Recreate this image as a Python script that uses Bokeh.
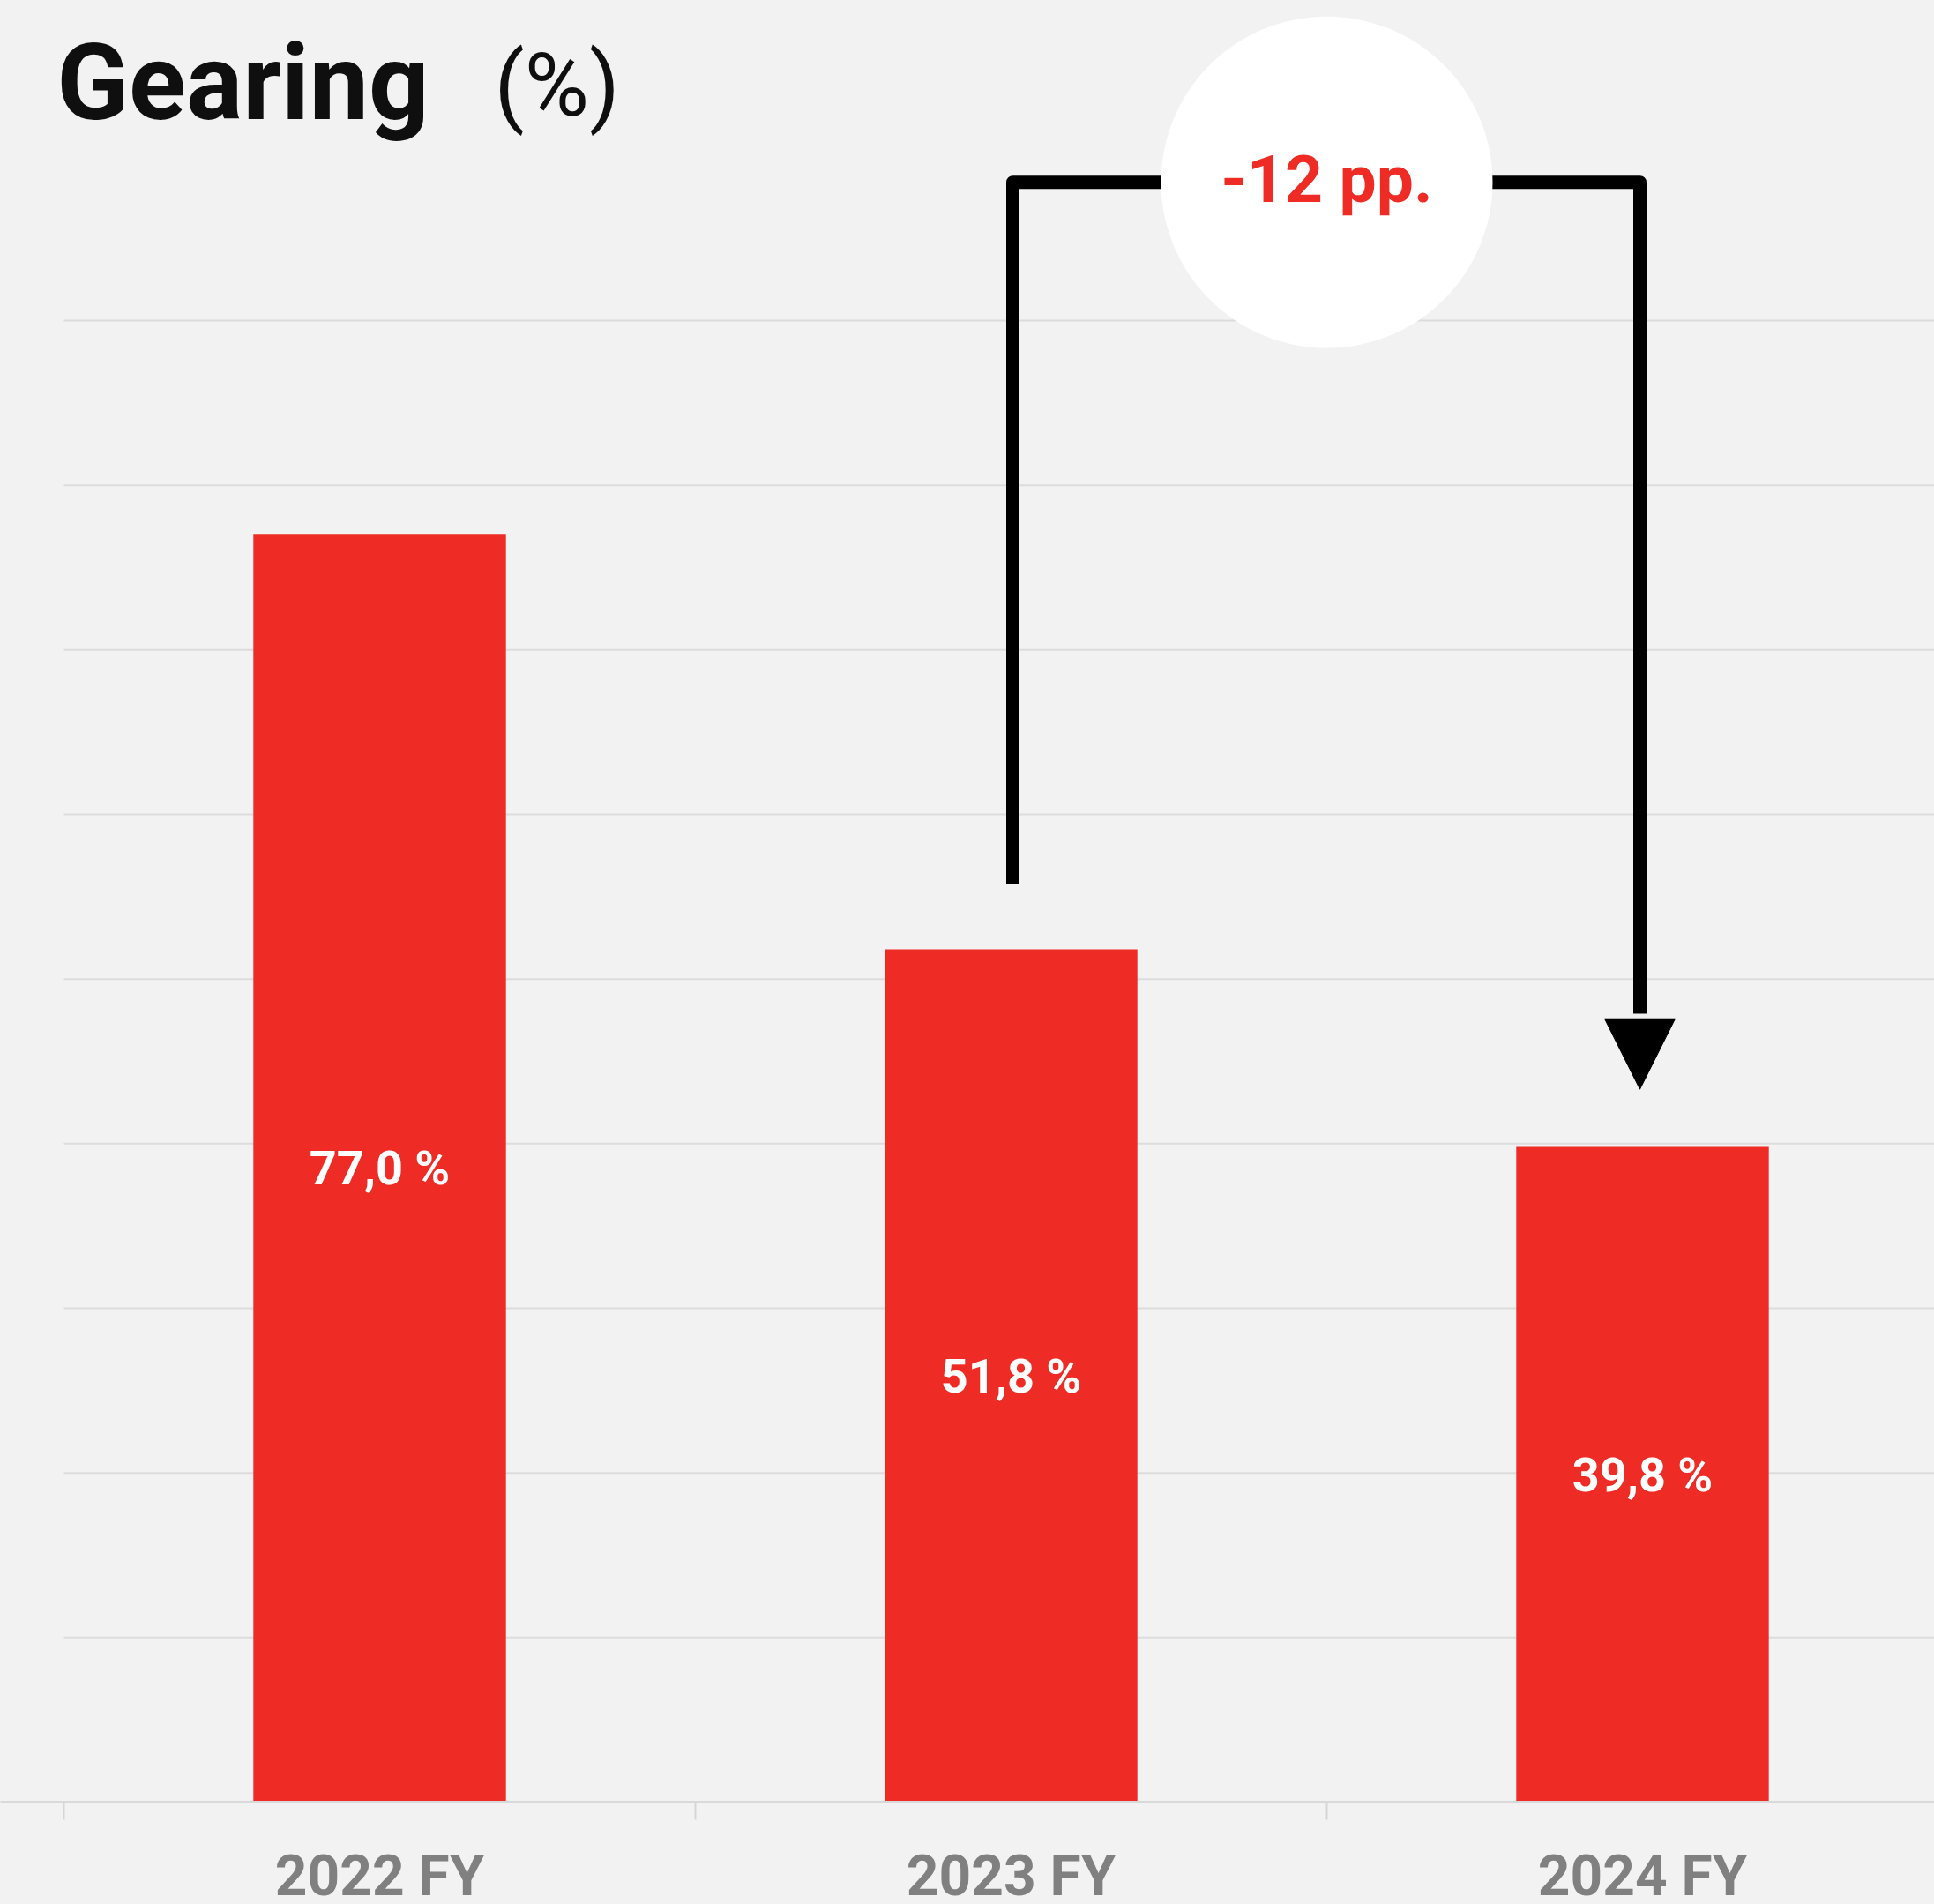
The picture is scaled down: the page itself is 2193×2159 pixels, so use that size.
from bokeh.plotting import figure
from bokeh.models import Range1d, FixedTicker, ColumnDataSource
from bokeh.core.properties import value
from bokeh.embed import file_html
from bokeh.resources import INLINE

# ---- data ----
categories = ["2022 FY", "2023 FY", "2024 FY"]
gearing = [77.0, 51.8, 39.8]
grid_ticks = [0, 10, 20, 30, 40, 50, 60, 70, 80, 90]
title_main = "Gearing"
title_unit = "(%)"

RED = "#ee2b25"
BG = "#f2f2f2"
GRID = "#dcdcdc"
PX_PER_UNIT = 18.667
PX_PER_CAT = 716
LEFT_PAD = 72

xs = [i + 0.5 for i in range(len(categories))]
labels = [f"{v:.1f}".replace(".", ",") + " %" for v in gearing]
src = ColumnDataSource(dict(x=xs, top=gearing, mid=[v / 2 for v in gearing], label=labels))

x_start = -LEFT_PAD / PX_PER_CAT
x_end = (2193 - LEFT_PAD) / PX_PER_CAT
p = figure(frame_width=2193, frame_height=2043, output_backend="svg", toolbar_location=None,
           x_range=Range1d(x_start, x_end), y_range=Range1d(0, 2043 / PX_PER_UNIT),
           min_border_left=0, min_border_right=0, min_border_top=0, min_border_bottom=0)
p.background_fill_color = BG
p.border_fill_color = BG
p.outline_line_color = None
p.yaxis.visible = False
p.xgrid.grid_line_color = None
p.ygrid.grid_line_color = None

# horizontal grid lines starting at the first category boundary
p.segment(x0=[0] * len(grid_ticks), x1=[x_end] * len(grid_ticks), y0=grid_ticks, y1=grid_ticks,
          line_color=GRID, line_width=2)
p.segment(x0=[0], x1=[x_end], y0=[0], y1=[0], line_color="#d9d9d9", line_width=3)

ax = p.xaxis[0]
ax.ticker = FixedTicker(ticks=xs, minor_ticks=list(range(len(categories) + 1)))
ax.major_label_overrides = {x: c for x, c in zip(xs, categories)}
ax.major_tick_line_color = None
ax.major_tick_out = 0
ax.major_tick_in = 0
ax.minor_tick_line_color = "#d6d6d6"
ax.minor_tick_line_width = 2
ax.minor_tick_out = 20
ax.minor_tick_in = 0
ax.axis_line_color = "#d9d9d9"
ax.axis_line_width = 3
ax.major_label_text_font = "Roboto"
ax.major_label_text_font_style = "bold"
ax.major_label_text_font_size = "64px"
ax.major_label_text_color = "#808080"
ax.major_label_text_line_height = 1.0
ax.major_label_standoff = 26

p.vbar(x="x", top="top", width=0.4, bottom=0, source=src, fill_color=RED, line_color=None)
p.text(x="x", y="mid", text="label", source=src, text_align="center", text_baseline="middle",
       text_font=value("Roboto"), text_font_style="bold", text_font_size="54px", text_color="white")

# ---- change annotation ----
top_y = 98.4
left_x = xs[1] + 2 / PX_PER_CAT
right_x = xs[2] - 3 / PX_PER_CAT
left_bottom = gearing[1] + 4.0
arrow_tip = gearing[2] + 3.5
arrow_base = arrow_tip + 80 / PX_PER_UNIT
half_w = 40 / PX_PER_CAT
p.line(x=[left_x, left_x, right_x, right_x], y=[left_bottom, top_y, top_y, arrow_base + 0.3],
       line_color="black", line_width=15, line_join="round")
p.patch(x=[right_x - half_w, right_x + half_w, right_x], y=[arrow_base, arrow_base, arrow_tip],
        fill_color="black", line_color="black", line_width=1)
mid_x = (xs[1] + xs[2]) / 2
p.circle(x=[mid_x], y=[top_y], radius=188, radius_units="screen", fill_color="white", line_color=None)
diff = round(gearing[2] - gearing[1])
p.text(x=[mid_x], y=[top_y + 0.2], text=[f"{diff} pp."], text_align="center", text_baseline="middle",
       text_font=value("Roboto"), text_font_style="bold", text_font_size="75px", text_color=RED)

# ---- title ----
p.text(x=[0.2835], y=[104.46], text=[title_main], text_align="center", text_baseline="middle",
       text_font=value("Roboto"), text_font_style="bold", text_font_size="90pt",
       text_color="#0f0f0f")
p.text(x=[0.781], y=[104.3], text=[title_unit], text_align="center", text_baseline="middle",
       text_font=value("Roboto"), text_font_style="normal", text_font_size="75pt",
       text_color="#0f0f0f")

html = file_html(p, INLINE)
html = html.replace("<body>", '<body style="background:#f2f2f2">')
open("out.html", "w").write(html)
